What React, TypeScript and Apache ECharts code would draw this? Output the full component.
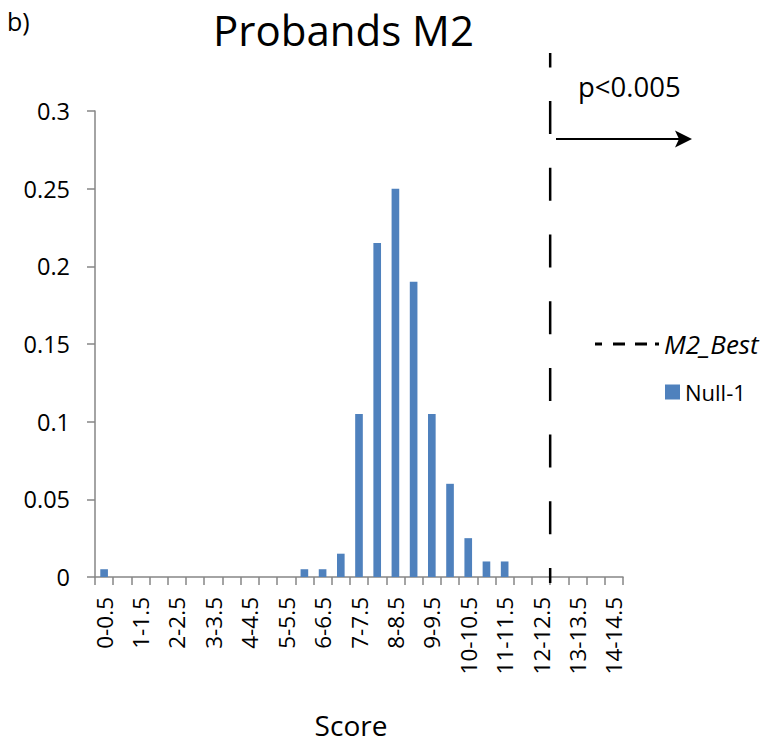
import React, { useEffect, useRef } from "react";
import * as echarts from "echarts";

const categories: string[] = [
  "0-0.5", "0.5-1", "1-1.5", "1.5-2", "2-2.5", "2.5-3", "3-3.5", "3.5-4",
  "4-4.5", "4.5-5", "5-5.5", "5.5-6", "6-6.5", "6.5-7", "7-7.5", "7.5-8",
  "8-8.5", "8.5-9", "9-9.5", "9.5-10", "10-10.5", "10.5-11", "11-11.5",
  "11.5-12", "12-12.5", "12.5-13", "13-13.5", "13.5-14", "14-14.5",
];

const null1Values: number[] = [
  0.005, 0, 0, 0, 0, 0, 0, 0,
  0, 0, 0, 0.005, 0.005, 0.015, 0.105, 0.215,
  0.25, 0.19, 0.105, 0.06, 0.025, 0.01, 0.01,
  0, 0, 0, 0, 0, 0,
];

const m2BestScore = 12.5;
const scoreMax = 14.5;

const FONT = "Open Sans";
const DASH_ICON =
  "path://M0,0h7v3h-7z M18,0h12v3h-12z M40,0h12v3h-12z M60,0h4v3h-4z";

export default function App() {
  const ref = useRef<HTMLDivElement>(null);

  useEffect(() => {
    if (!ref.current) return;
    const chart = echarts.init(ref.current, undefined, { renderer: "svg" });
    const axisColor = "#868686";
    chart.setOption({
      animation: false,
      backgroundColor: "#ffffff",
      textStyle: { fontFamily: FONT, color: "#000" },
      title: {
        text: "Probands M2",
        left: 208,
        top: 3,
        textStyle: { fontFamily: FONT, fontSize: 42, fontWeight: "normal", color: "#000" },
      },
      legend: [
        {
          data: [{ name: "M2_Best", icon: DASH_ICON, itemStyle: { color: "#000" } }],
          left: 595,
          top: 331,
          padding: 0,
          itemWidth: 64,
          itemHeight: 3,
          itemGap: 6,
          textStyle: { fontFamily: FONT, fontSize: 26, fontStyle: "italic", color: "#000" },
        },
        {
          data: [{ name: "Null-1", icon: "rect" }],
          left: 665,
          top: 381,
          padding: 0,
          itemWidth: 15,
          itemHeight: 15,
          textStyle: { fontFamily: FONT, fontSize: 22, color: "#000" },
        },
      ],
      grid: [
        { left: 95, right: 151, top: 111, bottom: 172 },
        { left: 95, right: 151, top: 53, bottom: 166 },
      ],
      xAxis: [
        {
          type: "category",
          gridIndex: 0,
          data: categories,
          boundaryGap: true,
          name: "Score",
          nameLocation: "middle",
          nameGap: 134,
          nameTextStyle: { fontFamily: FONT, fontSize: 28, color: "#000", padding: [0, 16, 0, 0] },
          axisLine: { show: true, lineStyle: { color: axisColor, width: 1.5 } },
          axisTick: { show: true, interval: 0, length: 8, lineStyle: { color: axisColor, width: 1.5 } },
          axisLabel: {
            interval: 1,
            rotate: 90,
            margin: 20,
            fontFamily: FONT,
            fontSize: 22.5,
            color: "#000",
          },
          splitLine: { show: false },
        },
        {
          type: "value",
          gridIndex: 1,
          min: 0,
          max: scoreMax,
          show: false,
        },
      ],
      yAxis: [
        {
          type: "value",
          gridIndex: 0,
          min: 0,
          max: 0.3,
          interval: 0.05,
          axisLine: { show: true, lineStyle: { color: axisColor, width: 1.5 } },
          axisTick: { show: true, length: 8, lineStyle: { color: axisColor, width: 1.5 } },
          axisLabel: { margin: 25, fontFamily: FONT, fontSize: 23.5, color: "#000" },
          splitLine: { show: false },
        },
        {
          type: "value",
          gridIndex: 1,
          min: 0,
          max: 1,
          show: false,
        },
      ],
      series: [
        {
          name: "Null-1",
          type: "bar",
          xAxisIndex: 0,
          yAxisIndex: 0,
          data: null1Values,
          barWidth: "42%",
          itemStyle: { color: "#4F81BD" },
        },
        {
          name: "M2_Best",
          type: "line",
          xAxisIndex: 1,
          yAxisIndex: 1,
          data: [
            [m2BestScore, 0],
            [m2BestScore, 1],
          ],
          symbol: "none",
          showSymbol: false,
          z: 5,
          lineStyle: { color: "#000", width: 2.5, type: [33, 33.7], dashOffset: 18 },
          itemStyle: { color: "#000" },
        },
      ],
      graphic: [
        {
          type: "text",
          left: 7,
          top: 8,
          style: { text: "b)", fontFamily: FONT, fontSize: 25, fill: "#000" },
        },
        {
          type: "text",
          x: 578,
          y: 72,
          style: { text: "p<0.005", fontFamily: FONT, fontSize: 27.5, fill: "#000" },
        },
        {
          type: "line",
          shape: { x1: 556, y1: 139, x2: 680, y2: 139 },
          style: { stroke: "#000", lineWidth: 2 },
        },
        {
          type: "polygon",
          shape: { points: [[675, 130.5], [692, 139], [675, 147.5], [679, 139]] },
          style: { fill: "#000" },
        },
      ],
    });
    return () => chart.dispose();
  }, []);

  return <div ref={ref} style={{ width: 774, height: 749, margin: -8 }} />;
}
